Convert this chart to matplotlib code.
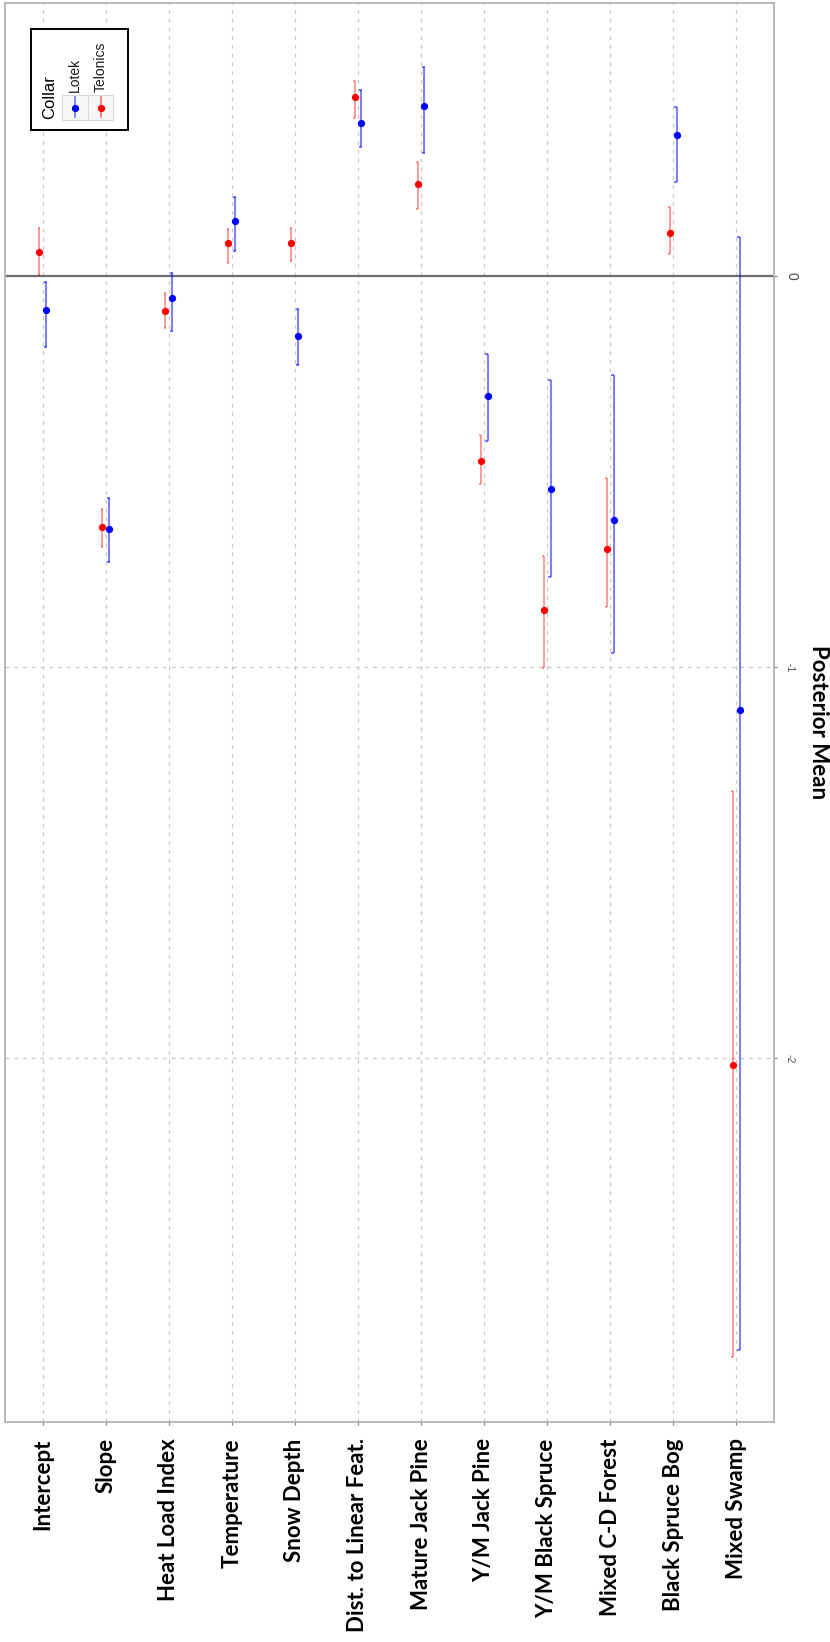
import matplotlib
matplotlib.use("Agg")
import matplotlib.pyplot as plt
from matplotlib.patches import Rectangle
from matplotlib.lines import Line2D
import numpy as np

# Model terms, left to right
categories = ["Intercept", "Slope", "Heat Load Index", "Temperature", "Snow Depth",
              "Dist. to Linear Feat.", "Mature Jack Pine", "Y/M Jack Pine",
              "Y/M Black Spruce", "Mixed C-D Forest", "Black Spruce Bog", "Mixed Swamp"]

# Posterior means and credible interval bounds, Lotek collars
lotek_mean = [-0.086, -0.647, -0.056, 0.141, -0.152, 0.391, 0.436, -0.307, -0.543, -0.624, 0.361, -1.108]
lotek_lo = [-0.180, -0.731, -0.141, 0.065, -0.226, 0.330, 0.315, -0.422, -0.769, -0.963, 0.240, -2.745]
lotek_hi = [-0.014, -0.567, 0.008, 0.204, -0.083, 0.477, 0.534, -0.198, -0.264, -0.252, 0.434, 0.100]

# Posterior means and credible interval bounds, Telonics collars
telonics_mean = [0.061, -0.641, -0.090, 0.084, 0.085, 0.458, 0.235, -0.473, -0.854, -0.697, 0.111, -2.017]
telonics_lo = [0.004, -0.693, -0.132, 0.034, 0.040, 0.406, 0.172, -0.532, -1.003, -0.847, 0.057, -2.764]
telonics_hi = [0.123, -0.594, -0.042, 0.121, 0.124, 0.500, 0.292, -0.405, -0.716, -0.517, 0.176, -1.317]

y_ticks = [0, -1, -2]

W, H = 830, 1642
fig = plt.figure(figsize=(W / 100, H / 100), dpi=100)
fig.patch.set_facecolor("white")


def fx(x):
    return x / W


def fy(y):
    return 1 - y / H


left, right, top, bottom = 5, 774, 3, 1421.5
ax = fig.add_axes([fx(left), fy(bottom), (right - left) / W, (bottom - top) / H])

pos = np.arange(1, len(categories) + 1)
dodge = 0.055

series = [
    ("Telonics", telonics_mean, telonics_lo, telonics_hi, "#ff0000", -dodge, (-0.028, 0.012), 1.1),
    ("Lotek", lotek_mean, lotek_lo, lotek_hi, "#0000ff", dodge, (-0.038, 0.01), 1.5),
]

for name, m, lo, hi, col, off, cap, lw in series:
    x = pos + off
    lo = np.asarray(lo)
    hi = np.asarray(hi)
    ax.vlines(x, lo, hi, color=col, alpha=0.5, lw=lw, zorder=3)
    ax.hlines(lo, x + cap[0], x + cap[1], color=col, alpha=0.5, lw=lw, zorder=3)
    ax.hlines(hi, x + cap[0], x + cap[1], color=col, alpha=0.5, lw=lw, zorder=3)
    ax.plot(x, m, "o", color=col, ms=4.2, mec=col, zorder=4, ls="none")

# Axis limits with 5% padding on the value axis
vmin = min(min(lotek_lo), min(telonics_lo))
vmax = max(max(lotek_hi), max(telonics_hi))
pad = 0.05 * (vmax - vmin)
ax.set_ylim(vmin - pad, vmax + pad)
ax.set_xlim(0.4, len(categories) + 0.6)

# Reference line at zero
ax.axhline(0, color="#6e6e6e", lw=1.6, zorder=2)

# Grid
ax.set_axisbelow(True)
ax.grid(True, which="major", axis="both", color="#c8c8c8", lw=0.9,
        linestyle=(0, (3, 4)))

for s in ax.spines.values():
    s.set_color("#b3b3b3")
    s.set_linewidth(1.3)

ax.set_xticks(pos)
ax.set_xticklabels(categories, rotation=90, ha="center", va="top",
                   fontfamily="Lato", fontweight="bold", fontsize=16, color="black")
ax.tick_params(axis="x", length=2.5, width=0.9, color="#7f7f7f", pad=9.6)

ax.yaxis.tick_right()
ax.set_yticks(y_ticks)
ax.set_yticklabels([str(v) for v in y_ticks], rotation=-90, ha="left", va="center",
                   fontfamily="Liberation Sans", fontsize=7.5, color="#4d4d4d")
ax.get_yticklabels()[0].set_fontsize(10)
ax.tick_params(axis="y", length=2.5, width=0.9, color="#7f7f7f", pad=5)

fig.text(fx(818), fy(722), "Posterior Mean", rotation=-90, ha="center", va="center",
         fontfamily="Lato", fontweight="bold", fontsize=16, color="black")

# Legend drawn in figure pixel space
fig.add_artist(Rectangle((fx(31), fy(130)), (128 - 31) / W, (130 - 29) / H,
                         transform=fig.transFigure, facecolor="white",
                         edgecolor="black", lw=1.4, zorder=10))
key_cols = [("Lotek", "#0000ff", 62.3, 88.3), ("Telonics", "#ff0000", 88.3, 113.3)]
for label, col, x0, x1 in key_cols:
    fig.add_artist(Rectangle((fx(x0), fy(120)), (x1 - x0) / W, 25 / H,
                             transform=fig.transFigure, facecolor="#f7f7f7",
                             edgecolor="#d9d9d9", lw=0.8, zorder=11))
    cx = (x0 + x1) / 2
    fig.add_artist(Line2D([fx(cx), fx(cx)], [fy(117), fy(97)], transform=fig.transFigure,
                          color=col, alpha=0.6, lw=1.1, zorder=12))
    fig.add_artist(Line2D([fx(cx)], [fy(108)], transform=fig.transFigure, marker="o",
                          ms=4.2, color=col, ls="none", zorder=13))
    fig.text(fx(cx), fy(92), label, rotation=90, rotation_mode="anchor",
             ha="left", va="center", fontfamily="Liberation Sans", fontsize=10,
             color="#1a1a1a", zorder=12)
fig.text(fx(50), fy(119), "Collar", rotation=90, rotation_mode="anchor",
         ha="left", va="center", fontfamily="Liberation Sans", fontsize=12,
         color="black", zorder=12)

fig.savefig("out.png", dpi=100, facecolor="white")
